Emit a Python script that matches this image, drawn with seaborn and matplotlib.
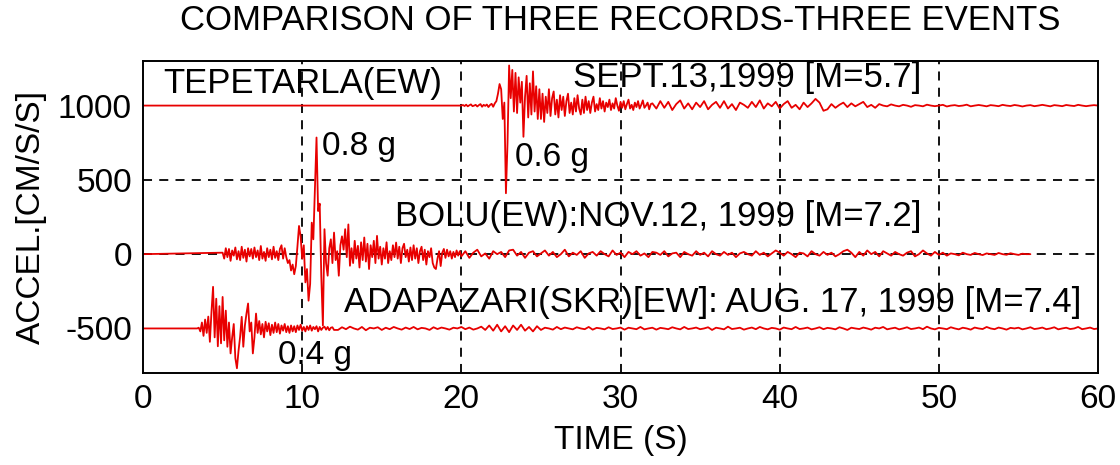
import numpy as np
import pandas as pd
import matplotlib
matplotlib.use("Agg")
import matplotlib.pyplot as plt
from matplotlib import font_manager
import seaborn as sns

# ---------------------------------------------------------------------------
# Records: baseline offsets (cm/s/s), onset times (s), and accelerations
# relative to each baseline. Strong-motion parts are sampled every 0.1 s,
# the quieter tails every 0.25 s.
# ---------------------------------------------------------------------------
record_names = ["TEPETARLA", "BOLU", "ADAPAZARI"]
record_offsets = [1000, 0, -500]
record_onsets = [20.0, 5.0, 3.4]
strong_dt = 0.1
tail_dt = 0.25

tepetarla_strong = [
    0, 4, -3, 6, -5, 2, 8, -4, 0, 5,
    -6, 3, 10, -8, 5, -2, 7, -10, 4, 12,
    -8, 15, 30, 80, 145, 110, -90, 20, -590, -250,
    270, 50, 240, -40, 220, -50, 190, 20, 160, -210,
    60, 200, -80, 150, -60, 230, -40, 130, -90, 110,
    -90, 80, -110, 60, -50, 110, -70, 50, 95, -60,
    40, -80, 70, -30, 60, -70, 30, 80, -50, 20,
    -60, 50, -40, 70, -20, -60, 40, -50, 60, -30,
    30, -50, 20, 60, -40, 10, -30, 50, -20, 30,
    -40, 20, -10, 40, -30, 15, -20, 50, 0, -35,
    25, -15, 30, -25, 10, 40, -20, 5, -30, 20,
    -10, 30, -20, 5, 35, -15, 0, 20, -25, 10,
    15,
]
tepetarla_tail = [
    -20, 30, -15, 25, -30, 10, 35, -20, 15, -25,
    20, -10, 30, -25, 5, 25, -15, 30, -20, 10,
    -30, 20, 5, -15, 25, -10, 35, -20, 15, -5,
    25, -20, 10, 30, -15, 5, -25, 20, -10, 15,
    45, 20, -35, -25, 10, -15, 5, 20, -10, 15,
    -5, 10, 25, -10, 5, -15, 10, 0, -5, 8,
    0, -5, 5, 0, -8, 3, 0, -5, 6, 0,
    -4, 0, 5, -6, 0, 3, -3, 0, 6, -5,
    0, 4, 0, -5, 3, 0, -4, 5, 0, -3,
    4, 0, -6, 0, 3, -4, 0, 5, 0, -5,
    3, 0, -4, 4, 0, -3, 5, 0, -4, 0,
    3, 0,
]

bolu_strong = [
    10, -30, 40, -20, 35, -45, 25, -10, 45, -35,
    20, -40, 50, -25, 30, -50, 40, -15, 35, -30,
    45, -20, 25, -40, 55, -30, 15, -45, 40, -20,
    30, -35, 50, -25, 20, -40, 35, 60, -30, 40,
    -20, -60, -40, -110, -70, -135, -80, 50, 190, 120,
    -30, 60, -190, -100, -313, -200, 212, 100, 450, 785,
    290, 340, -150, -480, 168, -60, -145, 40, 100, -60,
    145, -40, 20, -145, 60, 120, 30, 168, -20, 200,
    -78, 40, -60, 90, -30, 56, -90, 80, -40, 112,
    -50, 70, -100, 60, -20, 90, -60, 123, -30, 50,
    -70, 40, -30, 80, -60, 20, -40, 60, -20, 78,
    -30, 50, -60, 40, 70, -20, 30, -50, 45, -40,
    60, -30, 40, -60, 20, 50, -40, 30, -70, 20,
    -20, 40, -60, -90, -100, -30, 20, -80, 10, 35,
    -25, 30, -15, 20, -30, 15, -20, 25, -10, 20,
    -15,
]
bolu_tail = [
    20, -25, 10, 30, -15, 5, -30, 20, 0, 15,
    -20, 25, 30, -10, 15, -25, 10, 20, -15, 5,
    25, -10, 15, -20, 0, 30, -15, 10, -5, 20,
    -25, 5, 15, -10, 20, 0, -15, 25, -5, 10,
    -20, 15, 0, 20, -10, 5, -20, 15, 10, -5,
    20, -15, 5, 10, -20, 15, 0, -10, 20, -5,
    10, -15, 20, 0, -10, 15, -5, 10, -20, 5,
    15, 0, -10, 20, -5, 10, -15, 5, 25, 10,
    -10, 15, 0, -20, 10, 5, -15, 20, 0, -10,
    15, -5, 10, -15, 0, 20, 30, 10, -20, 15,
    -10, 25, 0, 15, -15, 20, 5, -10, 15, 0,
    -10, 10, 20, -15, 0, 25, 5, -10, 15, -5,
    10, -10, 5, 0, -8, 10, 0, -5, 8, 0,
    -6, 5, 0, -5, 8, 0, -4, 6, 0, -5,
    3, 0, 0,
]

adapazari_strong = [
    0, 5, -20, 40, -50, 60, -30, 80, -90, 110,
    280, -60, 200, -120, 150, -100, 212, -80, 120, -123,
    40, -168, -60, 30, -200, -268, -150, -56, 78, -123,
    20, 100, 168, -20, 40, -168, -60, 100, -30, 50,
    -40, 30, -60, 45, -20, 35, -45, 25, -30, 40,
    -25, 30, -35, 20, -15, 30, -25, 15, -30, 20,
    -20, 15, -25, 20, -10, 25, -15, 10, -20, 15,
    -10, 20, -15, 10, -5, 15, -20, 10, -10, 5,
    12, -8, 10, -12, 5, 8, -10,
]
adapazari_tail = [
    -10, 8, -5, 12, 0, -8, 10, -12, 5, 0,
    8, -10, 5, -5, 10, 0, -8, 6, -4, 10,
    -6, 4, 0, -10, 8, -4, 6, 0, -8, 5,
    0, 10, -5, 6, -8, 0, 12, -10, 20, -15,
    25, -20, 15, -25, 20, -10, 25, -15, 10, -20,
    15, -10, 5, 0, -8, 10, -5, 6, 0, -6,
    8, 0, -5, 10, -8, 4, 0, -6, 8, -4,
    0, 6, -8, 5, 0, -5, 10, -6, 0, 5,
    -8, 4, 0, -5, 8, 0, -6, 10, -4, 0,
    6, -5, 0, 8, -10, 5, 0, -6, 12, -4,
    0, 5, -8, 0, 6, -5, 10, 0, -6, 4,
    0, -8, 6, 0, -5, 10, -4, 0, 6, -6,
    0, 8, -5, 4, 0, -6, 8, 0, -10, 5,
    0, -4, 6, 0, -8, 5, 0, 10, -6, 0,
    5, -6, 0, 8, -4, 0, 6, -5, 12, 0,
    -6, 4, 0, -5, 8, 0, -6, 5, 0, -8,
    6, 0, -4, 10, 0, -5, 6, 0, -8, 4,
    0, 5, -6, 0, 8, -4, 0, 6, -5, 0,
    8, -6, 0, 5, -4, 0, 10, -5, 0, 6,
    -4, 0,
]

strong_parts = [tepetarla_strong, bolu_strong, adapazari_strong]
tail_parts = [tepetarla_tail, bolu_tail, adapazari_tail]

# Text placed on the plot
title_text = "COMPARISON OF THREE RECORDS-THREE EVENTS"
x_label = "TIME (S)"
y_label = "ACCEL.[CM/S/S]"
x_ticks = [0, 10, 20, 30, 40, 50, 60]
y_ticks = [-500, 0, 500, 1000]
event_labels = [
    ("TEPETARLA(EW)", 1.3, 1150),
    ("SEPT.13,1999 [M=5.7]", 27.0, 1190),
    ("BOLU(EW):NOV.12, 1999 [M=7.2]", 15.8, 255),
    ("ADAPAZARI(SKR)[EW]: AUG. 17, 1999 [M=7.4]", 12.6, -322),
]
peak_labels = [
    ("0.8 g", 11.25, 725),
    ("0.6 g", 23.4, 651),
    ("0.4 g", 8.5, -685),
]

# ---------------------------------------------------------------------------
# Assemble a long-form table: one row per vertex of each trace
# ---------------------------------------------------------------------------
rows = []
for name, off, onset, strong, tail in zip(record_names, record_offsets,
                                          record_onsets, strong_parts, tail_parts):
    t_strong = onset + strong_dt * np.arange(len(strong))
    t_tail = t_strong[-1] + tail_dt * (1 + np.arange(len(tail)))
    times = np.concatenate([[0.0], t_strong, t_tail])
    accel = np.concatenate([[0.0], strong, tail]) + off
    for k, (t, a) in enumerate(zip(times, accel)):
        rows.append((name, k, t, a))
df = pd.DataFrame(rows, columns=["record", "order", "time", "accel"])

# ---------------------------------------------------------------------------
# Styling
# ---------------------------------------------------------------------------
sns.set_style("white")
available = {f.name for f in font_manager.fontManager.ttflist}
base_font = "Liberation Sans Narrow" if "Liberation Sans Narrow" in available else "Liberation Sans"
plt.rcParams["font.family"] = [base_font, "DejaVu Sans"]
plt.rcParams["text.color"] = "black"
plt.rcParams["axes.labelcolor"] = "black"

fig = plt.figure(figsize=(11.2, 4.65), dpi=100)
ax = fig.add_axes([0.1277, 0.1978, 0.8527, 0.6710])

sns.lineplot(data=df, x="time", y="accel", units="record", estimator=None,
             sort=False, color="#e80000", linewidth=1.3, ax=ax, legend=False)

ax.set_xlim(0, 60)
ax.set_ylim(-800, 1300)
ax.set_xticks(x_ticks)
ax.set_yticks(y_ticks)
ax.set_xticklabels([str(v) for v in x_ticks])
ax.set_yticklabels([str(v) for v in y_ticks])
ax.tick_params(direction="in", length=8, width=1.2, colors="black",
               labelsize=24, pad=8)

# dashed reference grid at the inner tick positions
for xv in x_ticks[1:-1]:
    ax.axvline(xv, color="black", lw=1.3, ls=(0, (5, 4)), zorder=0)
for yv in [0, 500]:
    ax.axhline(yv, color="black", lw=1.3, ls=(0, (5, 4)), zorder=0)

for s in ax.spines.values():
    s.set_color("black")
    s.set_linewidth(1.4)

ax.set_xlabel(x_label, fontsize=24, labelpad=7, color="black")
ax.set_ylabel(y_label, fontsize=24, labelpad=8, color="black")
ax.set_title(title_text, fontsize=25, pad=22, color="black")

for txt, x, y in event_labels:
    ax.text(x, y, txt, fontsize=25, va="center", ha="left", color="black")
for txt, x, y in peak_labels:
    ax.text(x, y, txt, fontsize=24, va="center", ha="left", color="black")

fig.savefig("out.png", dpi=100)
